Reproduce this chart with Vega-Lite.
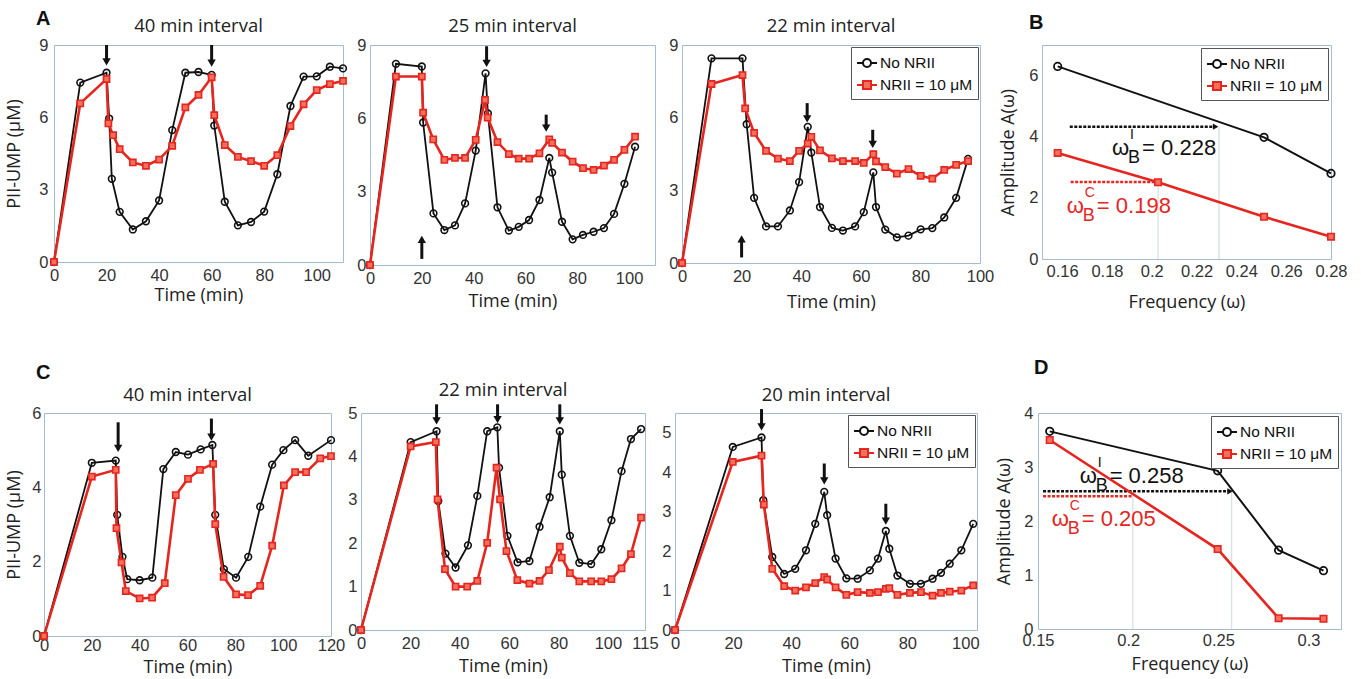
{
  "$schema": "https://vega.github.io/schema/vega-lite/v6.json",
  "background": "white",
  "padding": {"left": 5, "top": 8, "right": 5, "bottom": 3},
  "spacing": 45,
  "resolve": {"scale": {"color": "independent", "shape": "independent"}, "legend": {"color": "independent"}},
  "vconcat": [
    {
      "title": {"text": "A", "anchor": "start", "frame": "group", "dx": 23, "offset": -16, "font": "Liberation Sans", "fontWeight": "bold", "fontSize": 20, "color": "#111"},
      "spacing": 27,
      "bounds": "flush",
      "resolve": {"scale": {"color": "independent", "shape": "independent"}, "legend": {"color": "independent"}},
      "hconcat": [
        {"width": 14, "height": 10, "view": {"stroke": null}, "data": {"values": [{"q": 0}]}, "mark": {"type": "point", "opacity": 0}, "encoding": {}},
        {
          "width": 289, "height": 217,
          "title": {"text": "40 min interval", "offset": 2},
          "data": {"values": [
            {"s": "No NRII", "t": 0, "v": 0}, {"s": "No NRII", "t": 10, "v": 7.44}, {"s": "No NRII", "t": 20, "v": 7.85}, {"s": "No NRII", "t": 21, "v": 5.95}, {"s": "No NRII", "t": 22, "v": 3.45}, {"s": "No NRII", "t": 25, "v": 2.08}, {"s": "No NRII", "t": 30, "v": 1.35}, {"s": "No NRII", "t": 35, "v": 1.69}, {"s": "No NRII", "t": 40, "v": 2.55}, {"s": "No NRII", "t": 45, "v": 5.47}, {"s": "No NRII", "t": 50, "v": 7.85}, {"s": "No NRII", "t": 55, "v": 7.88}, {"s": "No NRII", "t": 60, "v": 7.76}, {"s": "No NRII", "t": 61, "v": 5.66}, {"s": "No NRII", "t": 65, "v": 2.5}, {"s": "No NRII", "t": 70, "v": 1.52}, {"s": "No NRII", "t": 75, "v": 1.66}, {"s": "No NRII", "t": 80, "v": 2.09}, {"s": "No NRII", "t": 85, "v": 3.64}, {"s": "No NRII", "t": 90, "v": 6.47}, {"s": "No NRII", "t": 95, "v": 7.69}, {"s": "No NRII", "t": 100, "v": 7.7}, {"s": "No NRII", "t": 105, "v": 8.1}, {"s": "No NRII", "t": 110, "v": 8.03},
            {"s": "NRII = 10 μM", "t": 0, "v": 0}, {"s": "NRII = 10 μM", "t": 10, "v": 6.58}, {"s": "NRII = 10 μM", "t": 20, "v": 7.59}, {"s": "NRII = 10 μM", "t": 20.7, "v": 5.75}, {"s": "NRII = 10 μM", "t": 22.5, "v": 5.26}, {"s": "NRII = 10 μM", "t": 25, "v": 4.68}, {"s": "NRII = 10 μM", "t": 30, "v": 4.13}, {"s": "NRII = 10 μM", "t": 35, "v": 3.99}, {"s": "NRII = 10 μM", "t": 40, "v": 4.25}, {"s": "NRII = 10 μM", "t": 45, "v": 4.82}, {"s": "NRII = 10 μM", "t": 50, "v": 6.41}, {"s": "NRII = 10 μM", "t": 55, "v": 6.93}, {"s": "NRII = 10 μM", "t": 60, "v": 7.66}, {"s": "NRII = 10 μM", "t": 61, "v": 6.09}, {"s": "NRII = 10 μM", "t": 65, "v": 4.85}, {"s": "NRII = 10 μM", "t": 70, "v": 4.36}, {"s": "NRII = 10 μM", "t": 75, "v": 4.18}, {"s": "NRII = 10 μM", "t": 80, "v": 3.99}, {"s": "NRII = 10 μM", "t": 85, "v": 4.43}, {"s": "NRII = 10 μM", "t": 90, "v": 5.64}, {"s": "NRII = 10 μM", "t": 95, "v": 6.54}, {"s": "NRII = 10 μM", "t": 100, "v": 7.13}, {"s": "NRII = 10 μM", "t": 105, "v": 7.38}, {"s": "NRII = 10 μM", "t": 110, "v": 7.51}
          ]},
          "layer": [
            {"transform": [{"filter": "datum.s === 'No NRII'"}], "mark": {"type": "line", "strokeWidth": 1.8},
             "encoding": {
               "x": {"field": "t", "type": "quantitative", "scale": {"domain": [0, 110], "nice": false}, "axis": {"values": [0, 20, 40, 60, 80, 100], "title": "Time (min)", "labelPadding": 5, "titlePadding": 3}},
               "y": {"field": "v", "type": "quantitative", "scale": {"domain": [0, 9], "nice": false}, "axis": {"values": [0, 3, 6, 9], "title": "PII-UMP (μM)", "labelPadding": 6, "titlePadding": 15}},
               "color": {"field": "s", "type": "nominal", "scale": {"domain": ["No NRII", "NRII = 10 μM"], "range": ["#111111", "#e5261f"]}, "legend": null}}},
            {"transform": [{"filter": "datum.s === 'No NRII'"}], "mark": {"type": "point", "shape": "circle", "filled": false, "size": 45, "strokeWidth": 1.6, "color": "#111111", "opacity": 1},
             "encoding": {"x": {"field": "t", "type": "quantitative"}, "y": {"field": "v", "type": "quantitative"}}},
            {"transform": [{"filter": "datum.s !== 'No NRII'"}], "mark": {"type": "line", "strokeWidth": 2.6},
             "encoding": {"x": {"field": "t", "type": "quantitative"}, "y": {"field": "v", "type": "quantitative"}, "color": {"field": "s", "type": "nominal", "legend": null}}},
            {"transform": [{"filter": "datum.s !== 'No NRII'"}], "mark": {"type": "point", "shape": "square", "filled": true, "size": 38, "fill": "#f3705f", "stroke": "#e5261f", "strokeWidth": 1.6, "opacity": 1},
             "encoding": {"x": {"field": "t", "type": "quantitative"}, "y": {"field": "v", "type": "quantitative"}}},
            {"data": {"values": [{"t": 20, "v": 9.0, "v2": 8.3, "dir": "down"}, {"t": 60, "v": 9.0, "v2": 8.25, "dir": "down"}]},
             "mark": {"type": "rule", "strokeWidth": 3, "color": "#111111"},
             "encoding": {"x": {"field": "t", "type": "quantitative"}, "y": {"field": "v", "type": "quantitative"}, "y2": {"field": "v2"}}},
            {"data": {"values": [{"t": 20, "v": 9.0, "v2": 8.3, "dir": "down"}, {"t": 60, "v": 9.0, "v2": 8.25, "dir": "down"}]},
             "mark": {"type": "point", "filled": true, "size": 70, "color": "#111111", "opacity": 1},
             "encoding": {"x": {"field": "t", "type": "quantitative"}, "y": {"field": "v2", "type": "quantitative"}, "shape": {"field": "dir", "type": "nominal", "scale": {"domain": ["down", "up"], "range": ["triangle-down", "triangle-up"]}, "legend": null}}}
          ]
        },
        {
          "width": 285, "height": 220,
          "title": {"text": "25 min interval", "offset": 2},
          "data": {"values": [
            {"s": "No NRII", "t": 0, "v": 0}, {"s": "No NRII", "t": 10, "v": 8.23}, {"s": "No NRII", "t": 20, "v": 8.12}, {"s": "No NRII", "t": 20.5, "v": 5.83}, {"s": "No NRII", "t": 24.5, "v": 2.11}, {"s": "No NRII", "t": 28.7, "v": 1.43}, {"s": "No NRII", "t": 32.8, "v": 1.62}, {"s": "No NRII", "t": 36.7, "v": 2.52}, {"s": "No NRII", "t": 40.8, "v": 4.68}, {"s": "No NRII", "t": 44.6, "v": 7.84}, {"s": "No NRII", "t": 45.5, "v": 6.2}, {"s": "No NRII", "t": 49.2, "v": 2.36}, {"s": "No NRII", "t": 53.6, "v": 1.41}, {"s": "No NRII", "t": 57.4, "v": 1.56}, {"s": "No NRII", "t": 61.4, "v": 1.84}, {"s": "No NRII", "t": 65.4, "v": 2.66}, {"s": "No NRII", "t": 69.2, "v": 4.38}, {"s": "No NRII", "t": 70.3, "v": 3.78}, {"s": "No NRII", "t": 74.1, "v": 1.77}, {"s": "No NRII", "t": 78.2, "v": 1.05}, {"s": "No NRII", "t": 82.2, "v": 1.23}, {"s": "No NRII", "t": 86.3, "v": 1.36}, {"s": "No NRII", "t": 90.3, "v": 1.51}, {"s": "No NRII", "t": 94.2, "v": 2.09}, {"s": "No NRII", "t": 98.2, "v": 3.32}, {"s": "No NRII", "t": 102.3, "v": 4.84},
            {"s": "NRII = 10 μM", "t": 0, "v": 0}, {"s": "NRII = 10 μM", "t": 10, "v": 7.71}, {"s": "NRII = 10 μM", "t": 20, "v": 7.71}, {"s": "NRII = 10 μM", "t": 20.5, "v": 6.23}, {"s": "NRII = 10 μM", "t": 24.4, "v": 5.14}, {"s": "NRII = 10 μM", "t": 28.7, "v": 4.3}, {"s": "NRII = 10 μM", "t": 32.8, "v": 4.38}, {"s": "NRII = 10 μM", "t": 36.7, "v": 4.38}, {"s": "NRII = 10 μM", "t": 40.8, "v": 5.12}, {"s": "NRII = 10 μM", "t": 44.4, "v": 6.75}, {"s": "NRII = 10 μM", "t": 45.4, "v": 6.03}, {"s": "NRII = 10 μM", "t": 49.2, "v": 5.03}, {"s": "NRII = 10 μM", "t": 53.6, "v": 4.54}, {"s": "NRII = 10 μM", "t": 57.4, "v": 4.35}, {"s": "NRII = 10 μM", "t": 61.4, "v": 4.35}, {"s": "NRII = 10 μM", "t": 65.4, "v": 4.57}, {"s": "NRII = 10 μM", "t": 69.2, "v": 5.14}, {"s": "NRII = 10 μM", "t": 70.3, "v": 5.0}, {"s": "NRII = 10 μM", "t": 74.1, "v": 4.6}, {"s": "NRII = 10 μM", "t": 78.2, "v": 4.23}, {"s": "NRII = 10 μM", "t": 82.2, "v": 3.96}, {"s": "NRII = 10 μM", "t": 86.3, "v": 3.89}, {"s": "NRII = 10 μM", "t": 90.3, "v": 4.07}, {"s": "NRII = 10 μM", "t": 94.2, "v": 4.3}, {"s": "NRII = 10 μM", "t": 98.2, "v": 4.71}, {"s": "NRII = 10 μM", "t": 102.3, "v": 5.25}
          ]},
          "layer": [
            {"transform": [{"filter": "datum.s === 'No NRII'"}], "mark": {"type": "line", "strokeWidth": 1.8},
             "encoding": {
               "x": {"field": "t", "type": "quantitative", "scale": {"domain": [0, 110], "nice": false}, "axis": {"values": [0, 20, 40, 60, 80, 100], "title": "Time (min)", "labelPadding": 5, "titlePadding": 6}},
               "y": {"field": "v", "type": "quantitative", "scale": {"domain": [0, 9], "nice": false}, "axis": {"values": [0, 3, 6, 9], "title": null, "labelPadding": 4}},
               "color": {"field": "s", "type": "nominal", "scale": {"domain": ["No NRII", "NRII = 10 μM"], "range": ["#111111", "#e5261f"]}, "legend": null}}},
            {"transform": [{"filter": "datum.s === 'No NRII'"}], "mark": {"type": "point", "shape": "circle", "filled": false, "size": 45, "strokeWidth": 1.6, "color": "#111111", "opacity": 1},
             "encoding": {"x": {"field": "t", "type": "quantitative"}, "y": {"field": "v", "type": "quantitative"}}},
            {"transform": [{"filter": "datum.s !== 'No NRII'"}], "mark": {"type": "line", "strokeWidth": 2.6},
             "encoding": {"x": {"field": "t", "type": "quantitative"}, "y": {"field": "v", "type": "quantitative"}, "color": {"field": "s", "type": "nominal", "legend": null}}},
            {"transform": [{"filter": "datum.s !== 'No NRII'"}], "mark": {"type": "point", "shape": "square", "filled": true, "size": 38, "fill": "#f3705f", "stroke": "#e5261f", "strokeWidth": 1.6, "opacity": 1},
             "encoding": {"x": {"field": "t", "type": "quantitative"}, "y": {"field": "v", "type": "quantitative"}}},
            {"data": {"values": [{"t": 45, "v": 8.95, "v2": 8.25, "dir": "down"}, {"t": 68, "v": 6.15, "v2": 5.6, "dir": "down"}, {"t": 20, "v": 0.25, "v2": 1.05, "dir": "up"}]},
             "mark": {"type": "rule", "strokeWidth": 3, "color": "#111111"},
             "encoding": {"x": {"field": "t", "type": "quantitative"}, "y": {"field": "v", "type": "quantitative"}, "y2": {"field": "v2"}}},
            {"data": {"values": [{"t": 45, "v": 8.95, "v2": 8.25, "dir": "down"}, {"t": 68, "v": 6.15, "v2": 5.6, "dir": "down"}, {"t": 20, "v": 0.25, "v2": 1.05, "dir": "up"}]},
             "mark": {"type": "point", "filled": true, "size": 70, "color": "#111111", "opacity": 1},
             "encoding": {"x": {"field": "t", "type": "quantitative"}, "y": {"field": "v2", "type": "quantitative"}, "shape": {"field": "dir", "type": "nominal", "scale": {"domain": ["down", "up"], "range": ["triangle-down", "triangle-up"]}, "legend": null}}}
          ]
        },
        {
          "width": 298, "height": 218,
          "title": {"text": "22 min interval", "offset": 2},
          "data": {"values": [
            {"s": "No NRII", "t": 0, "v": 0}, {"s": "No NRII", "t": 9.9, "v": 8.45}, {"s": "No NRII", "t": 20.3, "v": 8.45}, {"s": "No NRII", "t": 21.7, "v": 5.73}, {"s": "No NRII", "t": 24.2, "v": 2.69}, {"s": "No NRII", "t": 28.2, "v": 1.51}, {"s": "No NRII", "t": 32.2, "v": 1.51}, {"s": "No NRII", "t": 36.2, "v": 2.17}, {"s": "No NRII", "t": 39.3, "v": 3.34}, {"s": "No NRII", "t": 42.2, "v": 5.62}, {"s": "No NRII", "t": 43.4, "v": 4.56}, {"s": "No NRII", "t": 46.3, "v": 2.31}, {"s": "No NRII", "t": 50.3, "v": 1.45}, {"s": "No NRII", "t": 54, "v": 1.34}, {"s": "No NRII", "t": 58.1, "v": 1.51}, {"s": "No NRII", "t": 61, "v": 2.1}, {"s": "No NRII", "t": 64.2, "v": 3.74}, {"s": "No NRII", "t": 65.1, "v": 2.31}, {"s": "No NRII", "t": 68.2, "v": 1.38}, {"s": "No NRII", "t": 72.1, "v": 1.06}, {"s": "No NRII", "t": 76, "v": 1.13}, {"s": "No NRII", "t": 80.1, "v": 1.39}, {"s": "No NRII", "t": 84, "v": 1.44}, {"s": "No NRII", "t": 88, "v": 1.88}, {"s": "No NRII", "t": 92, "v": 2.69}, {"s": "No NRII", "t": 96, "v": 4.3},
            {"s": "NRII = 10 μM", "t": 0, "v": 0}, {"s": "NRII = 10 μM", "t": 9.9, "v": 7.39}, {"s": "NRII = 10 μM", "t": 20.3, "v": 7.76}, {"s": "NRII = 10 μM", "t": 21.2, "v": 6.38}, {"s": "NRII = 10 μM", "t": 24.2, "v": 5.37}, {"s": "NRII = 10 μM", "t": 28.2, "v": 4.63}, {"s": "NRII = 10 μM", "t": 32.2, "v": 4.31}, {"s": "NRII = 10 μM", "t": 36.2, "v": 4.21}, {"s": "NRII = 10 μM", "t": 39.3, "v": 4.63}, {"s": "NRII = 10 μM", "t": 42.2, "v": 4.93}, {"s": "NRII = 10 μM", "t": 43.4, "v": 5.21}, {"s": "NRII = 10 μM", "t": 46.3, "v": 4.65}, {"s": "NRII = 10 μM", "t": 50.3, "v": 4.32}, {"s": "NRII = 10 μM", "t": 54, "v": 4.21}, {"s": "NRII = 10 μM", "t": 58.1, "v": 4.21}, {"s": "NRII = 10 μM", "t": 61, "v": 4.13}, {"s": "NRII = 10 μM", "t": 64.2, "v": 4.49}, {"s": "NRII = 10 μM", "t": 65.1, "v": 4.2}, {"s": "NRII = 10 μM", "t": 68.2, "v": 3.96}, {"s": "NRII = 10 μM", "t": 72.1, "v": 3.69}, {"s": "NRII = 10 μM", "t": 76, "v": 3.88}, {"s": "NRII = 10 μM", "t": 80.1, "v": 3.6}, {"s": "NRII = 10 μM", "t": 84, "v": 3.48}, {"s": "NRII = 10 μM", "t": 88, "v": 3.84}, {"s": "NRII = 10 μM", "t": 92, "v": 4.05}, {"s": "NRII = 10 μM", "t": 96, "v": 4.21}
          ]},
          "layer": [
            {"transform": [{"filter": "datum.s === 'No NRII'"}], "mark": {"type": "line", "strokeWidth": 1.8},
             "encoding": {
               "x": {"field": "t", "type": "quantitative", "scale": {"domain": [0, 100], "nice": false}, "axis": {"values": [0, 20, 40, 60, 80, 100], "title": "Time (min)", "labelPadding": 5, "titlePadding": 9}},
               "y": {"field": "v", "type": "quantitative", "scale": {"domain": [0, 9], "nice": false}, "axis": {"values": [0, 3, 6, 9], "title": null, "labelPadding": 4}},
               "color": {"field": "s", "type": "nominal", "scale": {"domain": ["No NRII", "NRII = 10 μM"], "range": ["#111111", "#e5261f"]},
                 "legend": {"title": null, "orient": "top-right", "offset": 2, "padding": 5, "rowPadding": 2, "strokeColor": "#555555", "fillColor": "white", "labelFont": "Liberation Sans", "labelFontSize": 15.5, "labelColor": "#111111", "labelOffset": 2, "symbolSize": 400, "symbolStrokeWidth": 2,
                   "encode": {"symbols": {"update": {"shape": {"signal": "datum.value === 'No NRII' ? 'M-1,0L-0.4,0M0.4,0L1,0M-0.4,0A0.4,0.4,0,1,1,0.4,0A0.4,0.4,0,1,1,-0.4,0' : 'M-1,0L-0.4,0M0.4,0L1,0M-0.4,-0.4L0.4,-0.4L0.4,0.4L-0.4,0.4Z'"}, "fill": {"signal": "datum.value === 'No NRII' ? 'transparent' : '#f3705f'"}, "strokeWidth": {"value": 2}}}}}}}},
            {"transform": [{"filter": "datum.s === 'No NRII'"}], "mark": {"type": "point", "shape": "circle", "filled": false, "size": 45, "strokeWidth": 1.6, "color": "#111111", "opacity": 1},
             "encoding": {"x": {"field": "t", "type": "quantitative"}, "y": {"field": "v", "type": "quantitative"}}},
            {"transform": [{"filter": "datum.s !== 'No NRII'"}], "mark": {"type": "line", "strokeWidth": 2.6},
             "encoding": {"x": {"field": "t", "type": "quantitative"}, "y": {"field": "v", "type": "quantitative"}, "color": {"field": "s", "type": "nominal"}}},
            {"transform": [{"filter": "datum.s !== 'No NRII'"}], "mark": {"type": "point", "shape": "square", "filled": true, "size": 38, "fill": "#f3705f", "stroke": "#e5261f", "strokeWidth": 1.6, "opacity": 1},
             "encoding": {"x": {"field": "t", "type": "quantitative"}, "y": {"field": "v", "type": "quantitative"}}},
            {"data": {"values": [{"t": 42, "v": 6.6, "v2": 5.95, "dir": "down"}, {"t": 64, "v": 5.5, "v2": 4.9, "dir": "down"}, {"t": 20, "v": 0.23, "v2": 1.0, "dir": "up"}]},
             "mark": {"type": "rule", "strokeWidth": 3, "color": "#111111"},
             "encoding": {"x": {"field": "t", "type": "quantitative"}, "y": {"field": "v", "type": "quantitative"}, "y2": {"field": "v2"}}},
            {"data": {"values": [{"t": 42, "v": 6.6, "v2": 5.95, "dir": "down"}, {"t": 64, "v": 5.5, "v2": 4.9, "dir": "down"}, {"t": 20, "v": 0.23, "v2": 1.0, "dir": "up"}]},
             "mark": {"type": "point", "filled": true, "size": 70, "color": "#111111", "opacity": 1},
             "encoding": {"x": {"field": "t", "type": "quantitative"}, "y": {"field": "v2", "type": "quantitative"}, "shape": {"field": "dir", "type": "nominal", "scale": {"domain": ["down", "up"], "range": ["triangle-down", "triangle-up"]}, "legend": null}}}
          ]
        },
        {"width": 8, "height": 10, "view": {"stroke": null}, "data": {"values": [{"q": 0}]}, "mark": {"type": "point", "opacity": 0}, "encoding": {}},
        {
          "width": 289, "height": 214,
          "title": {"text": "B", "anchor": "start", "frame": "group", "dx": -13, "offset": 12, "font": "Liberation Sans", "fontWeight": "bold", "fontSize": 20, "color": "#111"},
          "layer": [
            {"data": {"values": [{"w": 0.2028, "z": 0, "a": 2.52}, {"w": 0.230, "z": 0, "a": 4.33}]},
             "mark": {"type": "rule", "color": "#cdd7e2", "strokeWidth": 1},
             "encoding": {
               "x": {"field": "w", "type": "quantitative", "scale": {"domain": [0.151, 0.28], "nice": false, "zero": false}, "axis": {"values": [0.16, 0.18, 0.2, 0.22, 0.24, 0.26, 0.28], "format": ".2~f", "title": "Frequency (ω)", "labelPadding": 4, "titlePadding": 14}},
               "y": {"field": "z", "type": "quantitative", "scale": {"domain": [0, 7], "nice": false}, "axis": {"values": [0, 2, 4, 6], "format": "d", "title": "Amplitude A(ω)", "labelPadding": 4, "titlePadding": 11}},
               "y2": {"field": "a"}}},
            {"data": {"values": [{"s": "No NRII", "w": 0.1634, "w2": 0.2275, "a": 4.33}, {"s": "NRII = 10 μM", "w": 0.1638, "w2": 0.2024, "a": 2.52}]},
             "mark": {"type": "rule", "strokeWidth": 2.5, "strokeDash": [3, 1.5]},
             "encoding": {"x": {"field": "w", "type": "quantitative"}, "x2": {"field": "w2"}, "y": {"field": "a", "type": "quantitative"}, "color": {"condition": {"test": "datum.s === 'No NRII'", "value": "#111111"}, "value": "#e5261f"}}},
            {"data": {"values": [{"w": 0.2285, "a": 4.33}]},
             "mark": {"type": "point", "shape": "triangle-right", "filled": true, "size": 40, "color": "#111111", "opacity": 1},
             "encoding": {"x": {"field": "w", "type": "quantitative"}, "y": {"field": "a", "type": "quantitative"}}},
            {"data": {"values": [
              {"s": "No NRII", "w": 0.158, "a": 6.3}, {"s": "No NRII", "w": 0.2501, "a": 3.98}, {"s": "No NRII", "w": 0.28, "a": 2.8},
              {"s": "NRII = 10 μM", "w": 0.158, "a": 3.47}, {"s": "NRII = 10 μM", "w": 0.2028, "a": 2.51}, {"s": "NRII = 10 μM", "w": 0.2501, "a": 1.38}, {"s": "NRII = 10 μM", "w": 0.28, "a": 0.73}
             ]},
             "layer": [
              {"transform": [{"filter": "datum.s === 'No NRII'"}], "mark": {"type": "line", "strokeWidth": 2},
               "encoding": {"x": {"field": "w", "type": "quantitative"}, "y": {"field": "a", "type": "quantitative"},
                 "color": {"field": "s", "type": "nominal", "scale": {"domain": ["No NRII", "NRII = 10 μM"], "range": ["#111111", "#e5261f"]},
                   "legend": {"title": null, "orient": "top-right", "offset": 3, "padding": 5, "rowPadding": 2, "strokeColor": "#555555", "fillColor": "white", "labelFont": "Liberation Sans", "labelFontSize": 15.5, "labelColor": "#111111", "labelOffset": 2, "symbolSize": 400, "symbolStrokeWidth": 2,
                     "encode": {"symbols": {"update": {"shape": {"signal": "datum.value === 'No NRII' ? 'M-1,0L-0.4,0M0.4,0L1,0M-0.4,0A0.4,0.4,0,1,1,0.4,0A0.4,0.4,0,1,1,-0.4,0' : 'M-1,0L-0.4,0M0.4,0L1,0M-0.4,-0.4L0.4,-0.4L0.4,0.4L-0.4,0.4Z'"}, "fill": {"signal": "datum.value === 'No NRII' ? 'transparent' : '#f3705f'"}, "strokeWidth": {"value": 2}}}}}}}},
              {"transform": [{"filter": "datum.s === 'No NRII'"}], "mark": {"type": "point", "shape": "circle", "filled": false, "size": 55, "strokeWidth": 1.8, "color": "#111111", "opacity": 1},
               "encoding": {"x": {"field": "w", "type": "quantitative"}, "y": {"field": "a", "type": "quantitative"}}},
              {"transform": [{"filter": "datum.s !== 'No NRII'"}], "mark": {"type": "line", "strokeWidth": 2.6},
               "encoding": {"x": {"field": "w", "type": "quantitative"}, "y": {"field": "a", "type": "quantitative"}, "color": {"field": "s", "type": "nominal"}}},
              {"transform": [{"filter": "datum.s !== 'No NRII'"}], "mark": {"type": "point", "shape": "square", "filled": true, "size": 42, "fill": "#f3705f", "stroke": "#e5261f", "strokeWidth": 1.6, "opacity": 1},
               "encoding": {"x": {"field": "w", "type": "quantitative"}, "y": {"field": "a", "type": "quantitative"}}}
             ]},
            {"data": {"values": [{"s": "No NRII", "w": 0.1823, "a": 3.64, "sup": "I", "rest": "= 0.228"}, {"s": "NRII = 10 μM", "w": 0.1621, "a": 1.74, "sup": "C", "rest": "= 0.198"}]},
             "layer": [
              {"mark": {"type": "text", "align": "left", "baseline": "middle", "font": "Liberation Sans", "fontSize": 22, "text": "ω"},
               "encoding": {"x": {"field": "w", "type": "quantitative"}, "y": {"field": "a", "type": "quantitative"}, "color": {"condition": {"test": "datum.s === 'No NRII'", "value": "#111111"}, "value": "#e5261f"}}},
              {"mark": {"type": "text", "align": "left", "baseline": "middle", "font": "Liberation Sans", "fontSize": 14, "dx": 18, "dy": -13},
               "encoding": {"x": {"field": "w", "type": "quantitative"}, "y": {"field": "a", "type": "quantitative"}, "text": {"field": "sup", "type": "nominal"}, "color": {"condition": {"test": "datum.s === 'No NRII'", "value": "#111111"}, "value": "#e5261f"}}},
              {"mark": {"type": "text", "align": "left", "baseline": "middle", "font": "Liberation Sans", "fontSize": 18, "dx": 16, "dy": 10, "text": "B"},
               "encoding": {"x": {"field": "w", "type": "quantitative"}, "y": {"field": "a", "type": "quantitative"}, "color": {"condition": {"test": "datum.s === 'No NRII'", "value": "#111111"}, "value": "#e5261f"}}},
              {"mark": {"type": "text", "align": "left", "baseline": "middle", "font": "Liberation Sans", "fontSize": 22, "dx": 30},
               "encoding": {"x": {"field": "w", "type": "quantitative"}, "y": {"field": "a", "type": "quantitative"}, "text": {"field": "rest", "type": "nominal"}, "color": {"condition": {"test": "datum.s === 'No NRII'", "value": "#111111"}, "value": "#e5261f"}}}
             ]}
          ]
        }
      ]
    },
    {
      "title": {"text": "C", "anchor": "start", "frame": "group", "dx": 23, "offset": -25, "font": "Liberation Sans", "fontWeight": "bold", "fontSize": 20, "color": "#111"},
      "spacing": 30,
      "bounds": "flush",
      "resolve": {"scale": {"color": "independent", "shape": "independent"}, "legend": {"color": "independent"}},
      "hconcat": [
        {"width": 1, "height": 10, "view": {"stroke": null}, "data": {"values": [{"q": 0}]}, "mark": {"type": "point", "opacity": 0}, "encoding": {}},
        {
          "width": 287, "height": 223,
          "title": {"text": "40 min interval", "offset": 1},
          "data": {"values": [
            {"s": "No NRII", "t": 0, "v": 0}, {"s": "No NRII", "t": 20, "v": 4.66}, {"s": "No NRII", "t": 30, "v": 4.72}, {"s": "No NRII", "t": 30.6, "v": 3.26}, {"s": "No NRII", "t": 32.8, "v": 2.13}, {"s": "No NRII", "t": 34.8, "v": 1.53}, {"s": "No NRII", "t": 40, "v": 1.5}, {"s": "No NRII", "t": 45.3, "v": 1.57}, {"s": "No NRII", "t": 49.9, "v": 4.49}, {"s": "No NRII", "t": 55.1, "v": 4.95}, {"s": "No NRII", "t": 60.2, "v": 4.88}, {"s": "No NRII", "t": 65.5, "v": 5.02}, {"s": "No NRII", "t": 70.4, "v": 5.14}, {"s": "No NRII", "t": 71.6, "v": 3.26}, {"s": "No NRII", "t": 75.2, "v": 1.8}, {"s": "No NRII", "t": 80.3, "v": 1.57}, {"s": "No NRII", "t": 85.4, "v": 2.13}, {"s": "No NRII", "t": 90.4, "v": 3.48}, {"s": "No NRII", "t": 95.4, "v": 4.61}, {"s": "No NRII", "t": 100.1, "v": 5.0}, {"s": "No NRII", "t": 105, "v": 5.27}, {"s": "No NRII", "t": 110.5, "v": 4.85}, {"s": "No NRII", "t": 120, "v": 5.27},
            {"s": "NRII = 10 μM", "t": 0, "v": 0}, {"s": "NRII = 10 μM", "t": 20, "v": 4.29}, {"s": "NRII = 10 μM", "t": 30, "v": 4.47}, {"s": "NRII = 10 μM", "t": 30.3, "v": 2.9}, {"s": "NRII = 10 μM", "t": 32.4, "v": 1.98}, {"s": "NRII = 10 μM", "t": 34.2, "v": 1.21}, {"s": "NRII = 10 μM", "t": 40, "v": 1.01}, {"s": "NRII = 10 μM", "t": 45.2, "v": 1.03}, {"s": "NRII = 10 μM", "t": 50.5, "v": 1.42}, {"s": "NRII = 10 μM", "t": 55.1, "v": 3.79}, {"s": "NRII = 10 μM", "t": 60.2, "v": 4.23}, {"s": "NRII = 10 μM", "t": 65.2, "v": 4.47}, {"s": "NRII = 10 μM", "t": 70.7, "v": 4.63}, {"s": "NRII = 10 μM", "t": 71.6, "v": 3.01}, {"s": "NRII = 10 μM", "t": 75.1, "v": 1.59}, {"s": "NRII = 10 μM", "t": 80.3, "v": 1.12}, {"s": "NRII = 10 μM", "t": 85.3, "v": 1.1}, {"s": "NRII = 10 μM", "t": 90.4, "v": 1.35}, {"s": "NRII = 10 μM", "t": 95.4, "v": 2.43}, {"s": "NRII = 10 μM", "t": 100.3, "v": 4.05}, {"s": "NRII = 10 μM", "t": 105, "v": 4.41}, {"s": "NRII = 10 μM", "t": 109.6, "v": 4.41}, {"s": "NRII = 10 μM", "t": 115.5, "v": 4.78}, {"s": "NRII = 10 μM", "t": 120, "v": 4.84}
          ]},
          "layer": [
            {"transform": [{"filter": "datum.s === 'No NRII'"}], "mark": {"type": "line", "strokeWidth": 1.8},
             "encoding": {
               "x": {"field": "t", "type": "quantitative", "scale": {"domain": [0, 120], "nice": false}, "axis": {"values": [0, 20, 40, 60, 80, 100, 120], "title": "Time (min)", "labelPadding": 1, "titlePadding": 5}},
               "y": {"field": "v", "type": "quantitative", "scale": {"domain": [0, 6], "nice": false}, "axis": {"values": [0, 2, 4, 6], "title": "PII-UMP (μM)", "labelPadding": 3, "titlePadding": 8}},
               "color": {"field": "s", "type": "nominal", "scale": {"domain": ["No NRII", "NRII = 10 μM"], "range": ["#111111", "#e5261f"]}, "legend": null}}},
            {"transform": [{"filter": "datum.s === 'No NRII'"}], "mark": {"type": "point", "shape": "circle", "filled": false, "size": 45, "strokeWidth": 1.6, "color": "#111111", "opacity": 1},
             "encoding": {"x": {"field": "t", "type": "quantitative"}, "y": {"field": "v", "type": "quantitative"}}},
            {"transform": [{"filter": "datum.s !== 'No NRII'"}], "mark": {"type": "line", "strokeWidth": 2.6},
             "encoding": {"x": {"field": "t", "type": "quantitative"}, "y": {"field": "v", "type": "quantitative"}, "color": {"field": "s", "type": "nominal", "legend": null}}},
            {"transform": [{"filter": "datum.s !== 'No NRII'"}], "mark": {"type": "point", "shape": "square", "filled": true, "size": 38, "fill": "#f3705f", "stroke": "#e5261f", "strokeWidth": 1.6, "opacity": 1},
             "encoding": {"x": {"field": "t", "type": "quantitative"}, "y": {"field": "v", "type": "quantitative"}}},
            {"data": {"values": [{"t": 31, "v": 5.75, "v2": 5.05, "dir": "down"}, {"t": 70, "v": 5.85, "v2": 5.35, "dir": "down"}]},
             "mark": {"type": "rule", "strokeWidth": 3, "color": "#111111"},
             "encoding": {"x": {"field": "t", "type": "quantitative"}, "y": {"field": "v", "type": "quantitative"}, "y2": {"field": "v2"}}},
            {"data": {"values": [{"t": 31, "v": 5.75, "v2": 5.05, "dir": "down"}, {"t": 70, "v": 5.85, "v2": 5.35, "dir": "down"}]},
             "mark": {"type": "point", "filled": true, "size": 70, "color": "#111111", "opacity": 1},
             "encoding": {"x": {"field": "t", "type": "quantitative"}, "y": {"field": "v2", "type": "quantitative"}, "shape": {"field": "dir", "type": "nominal", "scale": {"domain": ["down", "up"], "range": ["triangle-down", "triangle-up"]}, "legend": null}}}
          ]
        },
        {
          "width": 284, "height": 217,
          "title": {"text": "22 min interval", "offset": 3},
          "data": {"values": [
            {"s": "No NRII", "t": 0, "v": 0}, {"s": "No NRII", "t": 20.1, "v": 4.33}, {"s": "No NRII", "t": 30.6, "v": 4.58}, {"s": "No NRII", "t": 31.3, "v": 2.97}, {"s": "No NRII", "t": 34.2, "v": 1.76}, {"s": "No NRII", "t": 38.3, "v": 1.44}, {"s": "No NRII", "t": 43.3, "v": 1.95}, {"s": "No NRII", "t": 47.1, "v": 3.09}, {"s": "No NRII", "t": 51.1, "v": 4.58}, {"s": "No NRII", "t": 55.2, "v": 4.67}, {"s": "No NRII", "t": 55.9, "v": 3.74}, {"s": "No NRII", "t": 59.3, "v": 2.17}, {"s": "No NRII", "t": 63.4, "v": 1.56}, {"s": "No NRII", "t": 68.2, "v": 1.59}, {"s": "No NRII", "t": 72.3, "v": 2.38}, {"s": "No NRII", "t": 76.4, "v": 3.06}, {"s": "No NRII", "t": 80.5, "v": 4.58}, {"s": "No NRII", "t": 81.3, "v": 3.58}, {"s": "No NRII", "t": 84.6, "v": 2.17}, {"s": "No NRII", "t": 88.4, "v": 1.55}, {"s": "No NRII", "t": 93.2, "v": 1.52}, {"s": "No NRII", "t": 97.3, "v": 1.86}, {"s": "No NRII", "t": 101.4, "v": 2.53}, {"s": "No NRII", "t": 105.5, "v": 3.66}, {"s": "No NRII", "t": 109.3, "v": 4.4}, {"s": "No NRII", "t": 113.4, "v": 4.63},
            {"s": "NRII = 10 μM", "t": 0, "v": 0}, {"s": "NRII = 10 μM", "t": 20.1, "v": 4.23}, {"s": "NRII = 10 μM", "t": 30.3, "v": 4.33}, {"s": "NRII = 10 μM", "t": 31, "v": 3.01}, {"s": "NRII = 10 μM", "t": 34, "v": 1.4}, {"s": "NRII = 10 μM", "t": 38.3, "v": 1.0}, {"s": "NRII = 10 μM", "t": 43, "v": 1.0}, {"s": "NRII = 10 μM", "t": 47.1, "v": 1.13}, {"s": "NRII = 10 μM", "t": 51.1, "v": 2.01}, {"s": "NRII = 10 μM", "t": 54.9, "v": 3.74}, {"s": "NRII = 10 μM", "t": 56.3, "v": 3.01}, {"s": "NRII = 10 μM", "t": 58.9, "v": 1.82}, {"s": "NRII = 10 μM", "t": 63.3, "v": 1.15}, {"s": "NRII = 10 μM", "t": 68.2, "v": 1.07}, {"s": "NRII = 10 μM", "t": 72.3, "v": 1.13}, {"s": "NRII = 10 μM", "t": 76.1, "v": 1.38}, {"s": "NRII = 10 μM", "t": 80.5, "v": 1.92}, {"s": "NRII = 10 μM", "t": 81.3, "v": 1.67}, {"s": "NRII = 10 μM", "t": 84.6, "v": 1.31}, {"s": "NRII = 10 μM", "t": 88.4, "v": 1.12}, {"s": "NRII = 10 μM", "t": 93.2, "v": 1.12}, {"s": "NRII = 10 μM", "t": 97.3, "v": 1.12}, {"s": "NRII = 10 μM", "t": 101.4, "v": 1.17}, {"s": "NRII = 10 μM", "t": 105.5, "v": 1.42}, {"s": "NRII = 10 μM", "t": 109.3, "v": 1.75}, {"s": "NRII = 10 μM", "t": 113.4, "v": 2.59}
          ]},
          "layer": [
            {"transform": [{"filter": "datum.s === 'No NRII'"}], "mark": {"type": "line", "strokeWidth": 1.8},
             "encoding": {
               "x": {"field": "t", "type": "quantitative", "scale": {"domain": [0, 115], "nice": false}, "axis": {"values": [0, 20, 40, 60, 80, 100, 115], "title": "Time (min)", "labelPadding": 5, "titlePadding": 6}},
               "y": {"field": "v", "type": "quantitative", "scale": {"domain": [0, 5], "nice": false}, "axis": {"values": [0, 1, 2, 3, 4, 5], "title": null, "labelPadding": 4}},
               "color": {"field": "s", "type": "nominal", "scale": {"domain": ["No NRII", "NRII = 10 μM"], "range": ["#111111", "#e5261f"]}, "legend": null}}},
            {"transform": [{"filter": "datum.s === 'No NRII'"}], "mark": {"type": "point", "shape": "circle", "filled": false, "size": 45, "strokeWidth": 1.6, "color": "#111111", "opacity": 1},
             "encoding": {"x": {"field": "t", "type": "quantitative"}, "y": {"field": "v", "type": "quantitative"}}},
            {"transform": [{"filter": "datum.s !== 'No NRII'"}], "mark": {"type": "line", "strokeWidth": 2.6},
             "encoding": {"x": {"field": "t", "type": "quantitative"}, "y": {"field": "v", "type": "quantitative"}, "color": {"field": "s", "type": "nominal", "legend": null}}},
            {"transform": [{"filter": "datum.s !== 'No NRII'"}], "mark": {"type": "point", "shape": "square", "filled": true, "size": 38, "fill": "#f3705f", "stroke": "#e5261f", "strokeWidth": 1.6, "opacity": 1},
             "encoding": {"x": {"field": "t", "type": "quantitative"}, "y": {"field": "v", "type": "quantitative"}}},
            {"data": {"values": [{"t": 30.6, "v": 5.2, "v2": 4.82, "dir": "down"}, {"t": 55.3, "v": 5.2, "v2": 4.85, "dir": "down"}, {"t": 80.5, "v": 5.2, "v2": 4.82, "dir": "down"}]},
             "mark": {"type": "rule", "strokeWidth": 3, "color": "#111111"},
             "encoding": {"x": {"field": "t", "type": "quantitative"}, "y": {"field": "v", "type": "quantitative"}, "y2": {"field": "v2"}}},
            {"data": {"values": [{"t": 30.6, "v": 5.2, "v2": 4.82, "dir": "down"}, {"t": 55.3, "v": 5.2, "v2": 4.85, "dir": "down"}, {"t": 80.5, "v": 5.2, "v2": 4.82, "dir": "down"}]},
             "mark": {"type": "point", "filled": true, "size": 70, "color": "#111111", "opacity": 1},
             "encoding": {"x": {"field": "t", "type": "quantitative"}, "y": {"field": "v2", "type": "quantitative"}, "shape": {"field": "dir", "type": "nominal", "scale": {"domain": ["down", "up"], "range": ["triangle-down", "triangle-up"]}, "legend": null}}}
          ]
        },
        {
          "width": 302, "height": 217,
          "title": {"text": "20 min interval", "offset": 3},
          "data": {"values": [
            {"s": "No NRII", "t": 0, "v": 0}, {"s": "No NRII", "t": 19.9, "v": 4.64}, {"s": "No NRII", "t": 29.8, "v": 4.88}, {"s": "No NRII", "t": 30.4, "v": 3.29}, {"s": "No NRII", "t": 33.5, "v": 1.85}, {"s": "No NRII", "t": 37.6, "v": 1.42}, {"s": "No NRII", "t": 41.4, "v": 1.55}, {"s": "No NRII", "t": 45.1, "v": 2.02}, {"s": "No NRII", "t": 48.3, "v": 2.69}, {"s": "No NRII", "t": 51.4, "v": 3.5}, {"s": "No NRII", "t": 52.4, "v": 2.91}, {"s": "No NRII", "t": 55.3, "v": 1.81}, {"s": "No NRII", "t": 59, "v": 1.31}, {"s": "No NRII", "t": 62.9, "v": 1.3}, {"s": "No NRII", "t": 67.1, "v": 1.51}, {"s": "No NRII", "t": 69.9, "v": 1.81}, {"s": "No NRII", "t": 72.6, "v": 2.51}, {"s": "No NRII", "t": 73.8, "v": 2.06}, {"s": "No NRII", "t": 76.6, "v": 1.38}, {"s": "No NRII", "t": 80.9, "v": 1.17}, {"s": "No NRII", "t": 84.7, "v": 1.17}, {"s": "No NRII", "t": 88.7, "v": 1.3}, {"s": "No NRII", "t": 91.6, "v": 1.45}, {"s": "No NRII", "t": 94.6, "v": 1.68}, {"s": "No NRII", "t": 98.6, "v": 2.02}, {"s": "No NRII", "t": 102.7, "v": 2.69},
            {"s": "NRII = 10 μM", "t": 0, "v": 0}, {"s": "NRII = 10 μM", "t": 19.9, "v": 4.26}, {"s": "NRII = 10 μM", "t": 29.8, "v": 4.42}, {"s": "NRII = 10 μM", "t": 30.6, "v": 3.18}, {"s": "NRII = 10 μM", "t": 33.5, "v": 1.55}, {"s": "NRII = 10 μM", "t": 37.6, "v": 1.11}, {"s": "NRII = 10 μM", "t": 41.4, "v": 1.0}, {"s": "NRII = 10 μM", "t": 45.1, "v": 1.08}, {"s": "NRII = 10 μM", "t": 48.3, "v": 1.19}, {"s": "NRII = 10 μM", "t": 51.4, "v": 1.34}, {"s": "NRII = 10 μM", "t": 52.4, "v": 1.28}, {"s": "NRII = 10 μM", "t": 55.3, "v": 1.08}, {"s": "NRII = 10 μM", "t": 59, "v": 0.89}, {"s": "NRII = 10 μM", "t": 62.9, "v": 0.96}, {"s": "NRII = 10 μM", "t": 67.1, "v": 0.94}, {"s": "NRII = 10 μM", "t": 69.9, "v": 0.96}, {"s": "NRII = 10 μM", "t": 72.6, "v": 1.04}, {"s": "NRII = 10 μM", "t": 73.8, "v": 1.06}, {"s": "NRII = 10 μM", "t": 76.6, "v": 0.89}, {"s": "NRII = 10 μM", "t": 80.9, "v": 0.94}, {"s": "NRII = 10 μM", "t": 84.7, "v": 0.96}, {"s": "NRII = 10 μM", "t": 88.7, "v": 0.87}, {"s": "NRII = 10 μM", "t": 91.6, "v": 0.94}, {"s": "NRII = 10 μM", "t": 94.6, "v": 0.97}, {"s": "NRII = 10 μM", "t": 98.6, "v": 1.0}, {"s": "NRII = 10 μM", "t": 102.7, "v": 1.13}
          ]},
          "layer": [
            {"transform": [{"filter": "datum.s === 'No NRII'"}], "mark": {"type": "line", "strokeWidth": 1.8},
             "encoding": {
               "x": {"field": "t", "type": "quantitative", "scale": {"domain": [0, 104], "nice": false}, "axis": {"values": [0, 20, 40, 60, 80, 100], "title": "Time (min)", "labelPadding": 5, "titlePadding": 6}},
               "y": {"field": "v", "type": "quantitative", "scale": {"domain": [0, 5.5], "nice": false}, "axis": {"values": [0, 1, 2, 3, 4, 5], "title": null, "labelPadding": 4}},
               "color": {"field": "s", "type": "nominal", "scale": {"domain": ["No NRII", "NRII = 10 μM"], "range": ["#111111", "#e5261f"]},
                 "legend": {"title": null, "orient": "top-right", "offset": 2, "padding": 5, "rowPadding": 2, "strokeColor": "#555555", "fillColor": "white", "labelFont": "Liberation Sans", "labelFontSize": 15.5, "labelColor": "#111111", "labelOffset": 2, "symbolSize": 400, "symbolStrokeWidth": 2,
                   "encode": {"symbols": {"update": {"shape": {"signal": "datum.value === 'No NRII' ? 'M-1,0L-0.4,0M0.4,0L1,0M-0.4,0A0.4,0.4,0,1,1,0.4,0A0.4,0.4,0,1,1,-0.4,0' : 'M-1,0L-0.4,0M0.4,0L1,0M-0.4,-0.4L0.4,-0.4L0.4,0.4L-0.4,0.4Z'"}, "fill": {"signal": "datum.value === 'No NRII' ? 'transparent' : '#f3705f'"}, "strokeWidth": {"value": 2}}}}}}}},
            {"transform": [{"filter": "datum.s === 'No NRII'"}], "mark": {"type": "point", "shape": "circle", "filled": false, "size": 45, "strokeWidth": 1.6, "color": "#111111", "opacity": 1},
             "encoding": {"x": {"field": "t", "type": "quantitative"}, "y": {"field": "v", "type": "quantitative"}}},
            {"transform": [{"filter": "datum.s !== 'No NRII'"}], "mark": {"type": "line", "strokeWidth": 2.6},
             "encoding": {"x": {"field": "t", "type": "quantitative"}, "y": {"field": "v", "type": "quantitative"}, "color": {"field": "s", "type": "nominal"}}},
            {"transform": [{"filter": "datum.s !== 'No NRII'"}], "mark": {"type": "point", "shape": "square", "filled": true, "size": 38, "fill": "#f3705f", "stroke": "#e5261f", "strokeWidth": 1.6, "opacity": 1},
             "encoding": {"x": {"field": "t", "type": "quantitative"}, "y": {"field": "v", "type": "quantitative"}}},
            {"data": {"values": [{"t": 29.8, "v": 5.6, "v2": 5.15, "dir": "down"}, {"t": 51.4, "v": 4.22, "v2": 3.78, "dir": "down"}, {"t": 72.6, "v": 3.2, "v2": 2.76, "dir": "down"}]},
             "mark": {"type": "rule", "strokeWidth": 3, "color": "#111111"},
             "encoding": {"x": {"field": "t", "type": "quantitative"}, "y": {"field": "v", "type": "quantitative"}, "y2": {"field": "v2"}}},
            {"data": {"values": [{"t": 29.8, "v": 5.6, "v2": 5.15, "dir": "down"}, {"t": 51.4, "v": 4.22, "v2": 3.78, "dir": "down"}, {"t": 72.6, "v": 3.2, "v2": 2.76, "dir": "down"}]},
             "mark": {"type": "point", "filled": true, "size": 70, "color": "#111111", "opacity": 1},
             "encoding": {"x": {"field": "t", "type": "quantitative"}, "y": {"field": "v2", "type": "quantitative"}, "shape": {"field": "dir", "type": "nominal", "scale": {"domain": ["down", "up"], "range": ["triangle-down", "triangle-up"]}, "legend": null}}}
          ]
        },
        {"width": 1, "height": 10, "view": {"stroke": null}, "data": {"values": [{"q": 0}]}, "mark": {"type": "point", "opacity": 0}, "encoding": {}},
        {
          "width": 303, "height": 216,
          "title": {"text": "D", "anchor": "start", "frame": "group", "dx": -4, "offset": 27, "font": "Liberation Sans", "fontWeight": "bold", "fontSize": 20, "color": "#111"},
          "layer": [
            {"data": {"values": [{"w": 0.2026, "z": 0, "a": 2.46}, {"w": 0.2574, "z": 0, "a": 2.55}]},
             "mark": {"type": "rule", "color": "#cdd7e2", "strokeWidth": 1},
             "encoding": {
               "x": {"field": "w", "type": "quantitative", "scale": {"domain": [0.15, 0.318], "nice": false, "zero": false}, "axis": {"values": [0.15, 0.2, 0.25, 0.3], "format": ".2~f", "title": "Frequency (ω)", "labelPadding": 3, "titlePadding": 7}},
               "y": {"field": "z", "type": "quantitative", "scale": {"domain": [0, 4], "nice": false}, "axis": {"values": [0, 1, 2, 3, 4], "format": "d", "title": "Amplitude A(ω)", "labelPadding": 5, "titlePadding": 10}},
               "y2": {"field": "a"}}},
            {"data": {"values": [{"s": "No NRII", "w": 0.1528, "w2": 0.2555, "a": 2.55}, {"s": "NRII = 10 μM", "w": 0.1528, "w2": 0.2026, "a": 2.46}]},
             "mark": {"type": "rule", "strokeWidth": 2.5, "strokeDash": [3, 1.5]},
             "encoding": {"x": {"field": "w", "type": "quantitative"}, "x2": {"field": "w2"}, "y": {"field": "a", "type": "quantitative"}, "color": {"condition": {"test": "datum.s === 'No NRII'", "value": "#111111"}, "value": "#e5261f"}}},
            {"data": {"values": [{"w": 0.2565, "a": 2.55}]},
             "mark": {"type": "point", "shape": "triangle-right", "filled": true, "size": 40, "color": "#111111", "opacity": 1},
             "encoding": {"x": {"field": "w", "type": "quantitative"}, "y": {"field": "a", "type": "quantitative"}}},
            {"data": {"values": [
              {"s": "No NRII", "w": 0.1565, "a": 3.66}, {"s": "No NRII", "w": 0.2496, "a": 2.93}, {"s": "No NRII", "w": 0.2834, "a": 1.46}, {"s": "No NRII", "w": 0.3083, "a": 1.08},
              {"s": "NRII = 10 μM", "w": 0.1565, "a": 3.5}, {"s": "NRII = 10 μM", "w": 0.2496, "a": 1.48}, {"s": "NRII = 10 μM", "w": 0.2834, "a": 0.2}, {"s": "NRII = 10 μM", "w": 0.3083, "a": 0.19}
             ]},
             "layer": [
              {"transform": [{"filter": "datum.s === 'No NRII'"}], "mark": {"type": "line", "strokeWidth": 2},
               "encoding": {"x": {"field": "w", "type": "quantitative"}, "y": {"field": "a", "type": "quantitative"},
                 "color": {"field": "s", "type": "nominal", "scale": {"domain": ["No NRII", "NRII = 10 μM"], "range": ["#111111", "#e5261f"]},
                   "legend": {"title": null, "orient": "top-right", "offset": 3, "padding": 5, "rowPadding": 2, "strokeColor": "#555555", "fillColor": "white", "labelFont": "Liberation Sans", "labelFontSize": 15.5, "labelColor": "#111111", "labelOffset": 2, "symbolSize": 400, "symbolStrokeWidth": 2,
                     "encode": {"symbols": {"update": {"shape": {"signal": "datum.value === 'No NRII' ? 'M-1,0L-0.4,0M0.4,0L1,0M-0.4,0A0.4,0.4,0,1,1,0.4,0A0.4,0.4,0,1,1,-0.4,0' : 'M-1,0L-0.4,0M0.4,0L1,0M-0.4,-0.4L0.4,-0.4L0.4,0.4L-0.4,0.4Z'"}, "fill": {"signal": "datum.value === 'No NRII' ? 'transparent' : '#f3705f'"}, "strokeWidth": {"value": 2}}}}}}}},
              {"transform": [{"filter": "datum.s === 'No NRII'"}], "mark": {"type": "point", "shape": "circle", "filled": false, "size": 55, "strokeWidth": 1.8, "color": "#111111", "opacity": 1},
               "encoding": {"x": {"field": "w", "type": "quantitative"}, "y": {"field": "a", "type": "quantitative"}}},
              {"transform": [{"filter": "datum.s !== 'No NRII'"}], "mark": {"type": "line", "strokeWidth": 2.6},
               "encoding": {"x": {"field": "w", "type": "quantitative"}, "y": {"field": "a", "type": "quantitative"}, "color": {"field": "s", "type": "nominal"}}},
              {"transform": [{"filter": "datum.s !== 'No NRII'"}], "mark": {"type": "point", "shape": "square", "filled": true, "size": 42, "fill": "#f3705f", "stroke": "#e5261f", "strokeWidth": 1.6, "opacity": 1},
               "encoding": {"x": {"field": "w", "type": "quantitative"}, "y": {"field": "a", "type": "quantitative"}}}
             ]},
            {"data": {"values": [{"s": "No NRII", "w": 0.1731, "a": 2.83, "sup": "I", "rest": "= 0.258"}, {"s": "NRII = 10 μM", "w": 0.1576, "a": 2.04, "sup": "C", "rest": "= 0.205"}]},
             "layer": [
              {"mark": {"type": "text", "align": "left", "baseline": "middle", "font": "Liberation Sans", "fontSize": 22, "text": "ω"},
               "encoding": {"x": {"field": "w", "type": "quantitative"}, "y": {"field": "a", "type": "quantitative"}, "color": {"condition": {"test": "datum.s === 'No NRII'", "value": "#111111"}, "value": "#e5261f"}}},
              {"mark": {"type": "text", "align": "left", "baseline": "middle", "font": "Liberation Sans", "fontSize": 14, "dx": 18, "dy": -13},
               "encoding": {"x": {"field": "w", "type": "quantitative"}, "y": {"field": "a", "type": "quantitative"}, "text": {"field": "sup", "type": "nominal"}, "color": {"condition": {"test": "datum.s === 'No NRII'", "value": "#111111"}, "value": "#e5261f"}}},
              {"mark": {"type": "text", "align": "left", "baseline": "middle", "font": "Liberation Sans", "fontSize": 18, "dx": 16, "dy": 10, "text": "B"},
               "encoding": {"x": {"field": "w", "type": "quantitative"}, "y": {"field": "a", "type": "quantitative"}, "color": {"condition": {"test": "datum.s === 'No NRII'", "value": "#111111"}, "value": "#e5261f"}}},
              {"mark": {"type": "text", "align": "left", "baseline": "middle", "font": "Liberation Sans", "fontSize": 22, "dx": 30},
               "encoding": {"x": {"field": "w", "type": "quantitative"}, "y": {"field": "a", "type": "quantitative"}, "text": {"field": "rest", "type": "nominal"}, "color": {"condition": {"test": "datum.s === 'No NRII'", "value": "#111111"}, "value": "#e5261f"}}}
             ]}
          ]
        }
      ]
    }
  ],
  "config": {
    "view": {"stroke": "#a3bbd3", "strokeWidth": 1},
    "axis": {"grid": false, "ticks": false, "tickSize": 0, "domain": false, "labelOverlap": false, "labelFlush": false, "labelFont": "Liberation Sans", "labelFontSize": 16.5, "labelColor": "#333333", "labelPadding": 5, "titleFont": "Open Sans", "titleFontSize": 18, "titleFontWeight": "normal", "titleColor": "#222222"},
    "title": {"font": "Open Sans", "fontSize": 18.5, "fontWeight": "normal", "color": "#222222", "offset": 10}
  }
}
